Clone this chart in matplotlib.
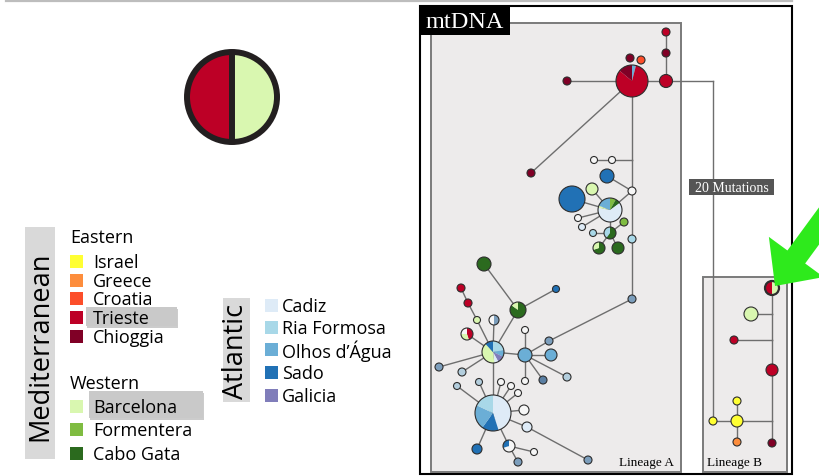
import matplotlib
matplotlib.use("Agg")
import matplotlib.pyplot as plt
from matplotlib.patches import Wedge, Circle, Rectangle, FancyArrow

# population colours (legend order)
pop_names = ["Israel", "Greece", "Croatia", "Trieste", "Chioggia",
             "Barcelona", "Formentera", "Cabo Gata",
             "Cadiz", "Ria Formosa", "Olhos d\u2019\u00c1gua", "Sado", "Galicia"]
pop_colors = ["#FFFF33", "#FD8D3C", "#FC4E2A", "#BD0026", "#800026",
              "#D9F7B0", "#7FBC41", "#2B6A1E",
              "#DEEBF7", "#A8D8E8", "#6BAED6", "#2171B5", "#807DBA"]
eastern = pop_names[0:5]
western = pop_names[5:8]
atlantic = pop_names[8:13]
col = dict(zip(pop_names, pop_colors))
col["white"] = "#F6F6F6"
col["greyblue"] = "#7C9EBC"
col["paleblue"] = "#B3CEDD"
col["dkgreyblue"] = "#5A7FA3"

# haplotype nodes: x, y (pixel layout), radius, composition
node_x = [632, 630, 641, 567, 666, 666, 666, 531, 594, 612,
          607, 592, 632, 572, 610, 578, 582, 593, 610, 624,
          632, 599, 618, 632, 549, 525, 525, 551, 525, 543,
          567, 518, 484, 556, 493, 477, 494, 461, 468, 467,
          439, 462, 493, 457, 479, 501, 511, 518, 524, 527,
          477, 509, 534, 518, 588,
          772, 751, 734, 772, 737, 737, 713, 737, 772]
node_y = [82, 59, 61, 82, 82, 54, 33, 174, 161, 161,
          177, 190, 192, 200, 211, 219, 228, 234, 234, 223,
          240, 249, 249, 300, 342, 356, 331, 356, 382, 381,
          378, 311, 265, 290, 353, 321, 321, 289, 304, 335,
          368, 373, 414, 387, 383, 383, 387, 394, 411, 428,
          450, 447, 453, 463, 461,
          289, 315, 341, 371, 422, 402, 422, 443, 444]
node_r = [16, 4, 4, 4, 6.5, 4, 4, 4, 3.5, 3.5,
          7, 6, 4, 13, 12, 3.5, 3.5, 3.5, 6, 4,
          4, 6, 6, 4, 4, 7, 3.5, 6, 3.5, 4,
          4, 8, 7, 3.5, 11, 3.5, 5, 4, 4, 6,
          4, 4, 18, 3.5, 3.5, 3.5, 3.5, 3.5, 5, 5,
          5, 6, 3.5, 4, 4,
          7, 7, 4, 6, 6, 4, 4, 4, 4]
node_parts = [
    [("Olhos d\u2019\u00c1gua", .04), ("Trieste", .82), ("Chioggia", .14)],
    [("Chioggia", 1)], [("Croatia", 1)], [("Chioggia", 1)], [("Trieste", 1)],
    [("Chioggia", 1)], [("Trieste", 1)], [("Chioggia", 1)], [("white", 1)], [("white", 1)],
    [("Sado", 1)], [("Barcelona", 1)], [("white", 1)], [("Sado", 1)],
    [("Formentera", .08), ("Cabo Gata", .07), ("Cadiz", .63), ("Barcelona", .03),
     ("Olhos d\u2019\u00c1gua", .19)],
    [("white", 1)], [("Cadiz", 1)], [("Ria Formosa", 1)],
    [("Cabo Gata", .6), ("Ria Formosa", .4)], [("Formentera", 1)],
    [("Ria Formosa", 1)], [("Cabo Gata", .7), ("Barcelona", .3)], [("Cabo Gata", 1)],
    [("greyblue", 1)], [("greyblue", 1)], [("Olhos d\u2019\u00c1gua", 1)], [("white", 1)],
    [("Olhos d\u2019\u00c1gua", 1)], [("white", 1)], [("dkgreyblue", 1)],
    [("paleblue", 1)], [("Cabo Gata", .85), ("Barcelona", .15)], [("Cabo Gata", 1)],
    [("Sado", 1)],
    [("Ria Formosa", .22), ("Olhos d\u2019\u00c1gua", .1), ("Galicia", .1), ("Cadiz", .06),
     ("Barcelona", .4), ("Sado", .12)],
    [("Barcelona", 1)], [("greyblue", .5), ("white", .5)], [("Trieste", 1)], [("Trieste", 1)],
    [("Trieste", .45), ("Barcelona", .3), ("white", .25)],
    [("greyblue", 1)], [("paleblue", 1)],
    [("Cadiz", .45), ("Sado", .15), ("Olhos d\u2019\u00c1gua", .22), ("Ria Formosa", .18)],
    [("paleblue", 1)], [("paleblue", 1)], [("white", 1)], [("white", 1)], [("white", 1)],
    [("white", 1)], [("Cadiz", 1)], [("Sado", 1)], [("white", .7), ("Sado", .3)],
    [("white", 1)], [("greyblue", 1)], [("greyblue", 1)],
    [("Barcelona", .5), ("Trieste", .5)], [("Barcelona", 1)], [("Trieste", 1)],
    [("Trieste", 1)], [("Israel", 1)], [("Israel", 1)], [("Israel", 1)], [("Greece", 1)],
    [("Chioggia", 1)],
]

# junction points of the network (no haplotype)
junc_x = [632, 713, 772, 772, 772]
junc_y = [161, 82, 315, 341, 422]
J = len(node_x)
nx = node_x + junc_x
ny = node_y + junc_y

# links between nodes (index pairs, junctions follow the nodes)
edges = [(0, 3), (0, 4), (4, 5), (5, 6), (0, 7), (0, J), (J, 12), (12, 20), (20, 23),
         (8, 9), (9, J), (10, 12), (12, 14), (14, 13), (14, 11), (14, 15), (14, 16),
         (14, 18), (17, 18), (18, 19), (18, 21), (18, 22),
         (23, 24), (24, 25), (25, 26), (25, 27), (25, 28), (25, 29), (25, 30), (25, 34),
         (34, 31), (31, 32), (31, 33), (34, 35), (35, 38), (38, 37), (34, 36), (34, 39),
         (34, 40), (34, 41), (34, 42),
         (42, 43), (42, 44), (42, 45), (42, 46), (42, 47), (42, 48), (42, 49), (49, 54),
         (42, 50), (42, 51), (51, 52), (51, 53),
         (4, J + 1), (J + 1, 61),
         (55, J + 2), (J + 2, J + 3), (J + 3, 58), (58, J + 4), (J + 4, 63),
         (56, J + 2), (57, J + 3), (59, J + 4), (59, 60), (59, 61), (59, 62)]

fig = plt.figure(figsize=(8.2, 4.77), dpi=100)
ax = fig.add_axes([0, 0, 1, 1])
ax.set_xlim(0, 820)
ax.set_ylim(477, 0)
ax.axis("off")

ax.plot([6, 792], [2, 2], color="#BDBDBD", lw=1.6)

# --- big half/half symbol
ax.add_patch(Wedge((232, 98), 45, 90, 270, color=col["Trieste"], lw=0))
ax.add_patch(Wedge((232, 98), 45, -90, 90, color=col["Barcelona"], lw=0))
ax.add_patch(Circle((232, 98), 45, fill=False, ec="#231F20", lw=4.3))
ax.plot([232, 232], [53, 143], color="#231F20", lw=4.3, solid_capstyle="butt")

# --- legend
lf = "Open Sans"
fs = 13
ax.add_patch(Rectangle((25, 228), 30, 232, color="#D9D9D9", lw=0))
ax.text(40, 346, "Mediterranean", rotation=90, ha="center", va="center",
        fontsize=19.5, family=lf)
ax.add_patch(Rectangle((223, 299), 27, 104, color="#D9D9D9", lw=0))
ax.text(236.5, 351, "Atlantic", rotation=90, ha="center", va="center",
        fontsize=19.5, family=lf)

# highlight boxes behind Trieste / Barcelona
for (bx, by, bw, bh) in [(86, 308, 91, 19), (89, 392, 114, 27)]:
    ax.add_patch(Rectangle((bx + 1.5, by + 2), bw, bh, color="#9A9A9A", alpha=0.5, lw=0))
    ax.add_patch(Rectangle((bx, by), bw, bh, color="#C9C9C9", lw=0))

ax.text(70, 238, "Eastern", fontsize=fs, family=lf, va="center")
ax.text(70, 384, "Western", fontsize=fs, family=lf, va="center")
rows = [(eastern, [262, 281, 299, 318, 337]),
        (western, [407, 430, 454])]
for names, ys in rows:
    for n, yy in zip(names, ys):
        ax.add_patch(Rectangle((70, yy - 6.5), 13.5, 13, color=col[n], lw=0))
        ax.text(93, yy + 1, n, fontsize=fs, family=lf, va="center")
for n, yy in zip(atlantic, [306, 328, 350, 373, 396]):
    ax.add_patch(Rectangle((265, yy - 6.5), 13.5, 13, color=col[n], lw=0))
    ax.text(282, yy + 1, n, fontsize=fs, family=lf, va="center")

# --- network panel
ax.add_patch(Rectangle((420, 7), 372, 468, fill=False, ec="black", lw=1.5))
ax.add_patch(Rectangle((431, 24), 250, 449, fc="#EDEBEB", ec="#7A7A7A", lw=1.4))
ax.add_patch(Rectangle((703, 278), 84, 195, fc="#EDEBEB", ec="#7A7A7A", lw=1.4))
ax.add_patch(Rectangle((420, 7), 90, 29, color="black", lw=0))
ax.text(465, 22, "mtDNA", color="white", fontsize=17.5, family="Liberation Serif",
        ha="center", va="center")

for a, b in edges:
    ax.plot([nx[a], nx[b]], [ny[a], ny[b]], color="#6E6E6E", lw=1.0, zorder=2)

ax.add_patch(Rectangle((689, 180), 85, 16, color="#555555", lw=0, zorder=3))
ax.text(731.5, 188.5, "20 Mutations", color="white", fontsize=10,
        family="Liberation Serif", ha="center", va="center", zorder=4)


def draw_pie(x, y, r, parts, lw):
    start = 0.0
    for name, frac in parts:
        t1 = -90 + start * 360
        t2 = -90 + (start + frac) * 360
        ax.add_patch(Wedge((x, y), r, t1, t2, color=col[name], lw=0, zorder=5))
        start += frac
    ax.add_patch(Circle((x, y), r, fill=False, ec="#2E2E2E", lw=lw, zorder=6))


for i in range(len(node_x)):
    lw = 1.6 if i == 55 else 0.8
    draw_pie(node_x[i], node_y[i], node_r[i], node_parts[i], lw)

ax.text(674, 463, "Lineage A", fontsize=9.5, family="Liberation Serif", ha="right",
        va="center")
ax.text(735, 463, "Lineage B", fontsize=9.5, family="Liberation Serif", ha="center",
        va="center")

# green pointer arrow
ax.add_patch(FancyArrow(830, 212, -55, 75, width=22, head_width=68,
                        head_length=36, length_includes_head=True,
                        color="#2EEA1C", lw=0, zorder=8))

fig.savefig("out.png", dpi=100)
